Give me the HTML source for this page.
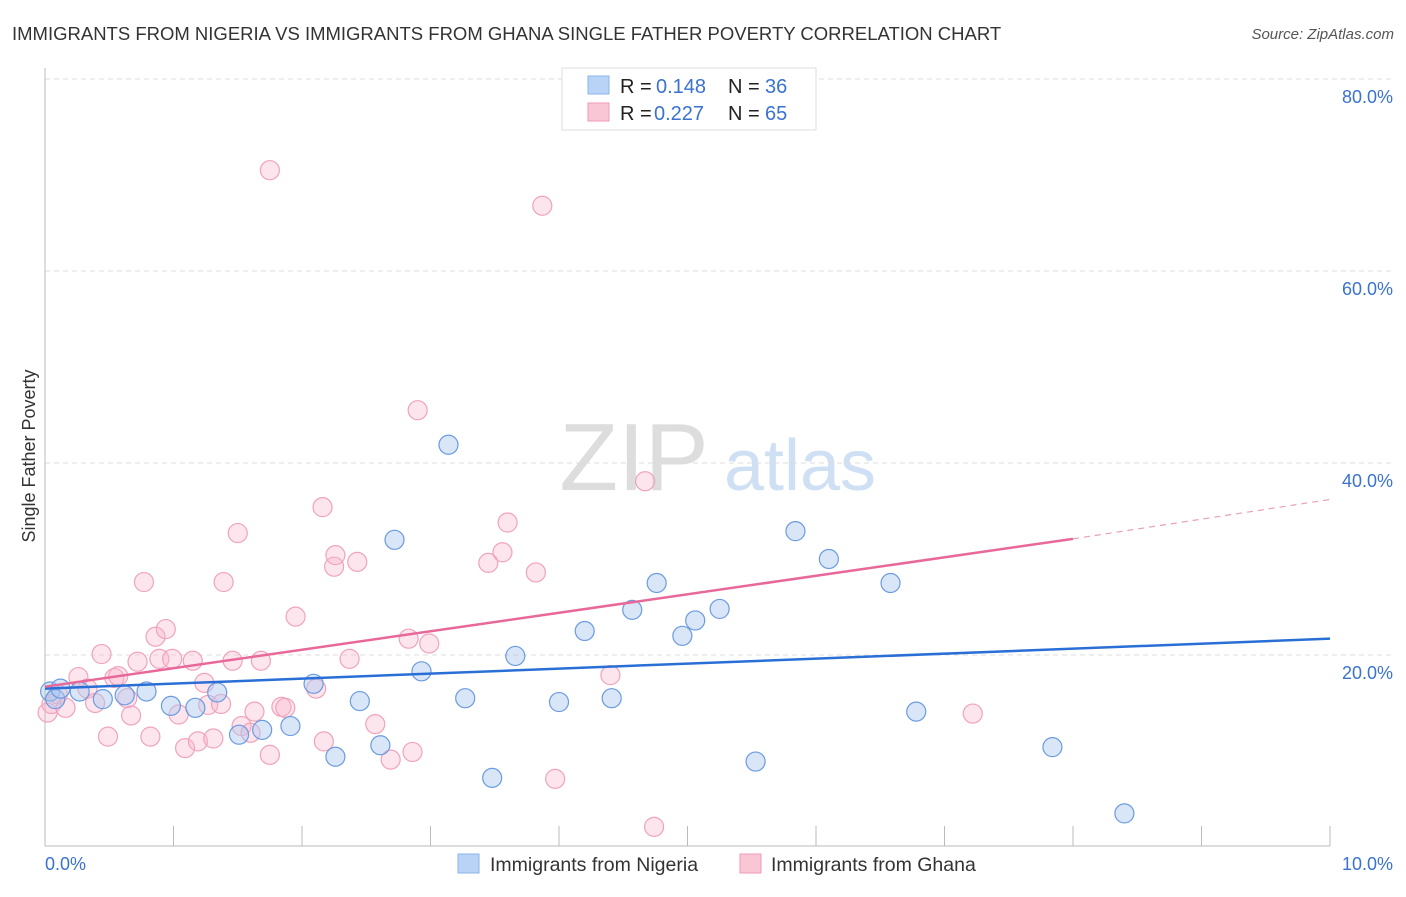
<!DOCTYPE html>
<html><head><meta charset="utf-8"><style>
body{margin:0;background:#fff;font-family:"Liberation Sans",sans-serif;}
svg text{font-family:"Liberation Sans",sans-serif;}
</style></head><body>
<svg width="1406" height="892" xmlns="http://www.w3.org/2000/svg">
<text x="12" y="40" font-size="18.5" fill="#333">IMMIGRANTS FROM NIGERIA VS IMMIGRANTS FROM GHANA SINGLE FATHER POVERTY CORRELATION CHART</text>
<text x="1394" y="39" font-size="15" fill="#555" font-style="italic" text-anchor="end">Source: ZipAtlas.com</text>
<text x="35" y="456" font-size="18" fill="#333" text-anchor="middle" transform="rotate(-90 35 456)">Single Father Poverty</text>
<g><text x="634" y="490" font-size="96" fill="#ddd" font-family="Liberation Serif" text-anchor="middle">ZIP</text><text x="800" y="490" font-size="72" fill="#cfe0f5" text-anchor="middle">atlas</text></g>
<g id="grid"></g><g id="axes"></g><g id="pts"></g><g id="lines"></g>
<g>
<rect x="562" y="68" width="254" height="62" fill="#fff" stroke="#ddd"/>
<rect x="588" y="76" width="21" height="18" fill="#b8d3f5" stroke="#8ab4ea"/>
<rect x="588" y="103" width="21" height="18" fill="#f9c6d6" stroke="#f09ab6"/>
<text x="620" y="93" font-size="20" fill="#222">R =</text>
<text x="656" y="93" font-size="20" fill="#3a72d0">0.148</text>
<text x="728" y="93" font-size="20" fill="#222">N =</text>
<text x="765" y="93" font-size="20" fill="#3a72d0">36</text>
<text x="620" y="120" font-size="20" fill="#222">R =</text>
<text x="654" y="120" font-size="20" fill="#3a72d0">0.227</text>
<text x="728" y="120" font-size="20" fill="#222">N =</text>
<text x="765" y="120" font-size="20" fill="#3a72d0">65</text>
</g>
<g>
<rect x="458" y="854" width="21" height="19" fill="#b8d3f5" stroke="#8ab4ea"/>
<text x="490" y="871" font-size="19.5" fill="#333">Immigrants from Nigeria</text>
<rect x="740" y="854" width="21" height="19" fill="#f9c6d6" stroke="#f09ab6"/>
<text x="771" y="871" font-size="19.5" fill="#333">Immigrants from Ghana</text>
</g>
</svg>
<script>
const yTicks=[20,40,60,80];
const xTickLabels=["0.0%","10.0%"];
const nigeriaX=[0.04,0.08,0.12,0.27,0.45,0.62,0.79,0.98,1.17,1.34,1.51,1.69,1.91,2.09,2.26,2.45,2.61,2.72,2.93,3.14,3.27,3.48,3.66,4.0,4.2,4.41,4.57,4.76,4.96,5.06,5.25,5.53,5.84,6.1,6.58,6.78,7.84,8.4];
const nigeriaY=[16.2,15.4,16.5,16.2,15.4,15.8,16.2,14.7,14.5,16.1,11.7,12.2,12.6,17.0,9.4,15.2,10.6,32.0,18.3,41.9,15.5,7.2,19.9,15.1,22.5,15.5,24.7,27.5,22.0,23.6,24.8,8.9,32.9,30.0,27.5,14.1,10.4,3.5];
const ghanaX=[0.02,0.05,0.1,0.16,0.26,0.33,0.39,0.44,0.49,0.54,0.57,0.64,0.67,0.72,0.77,0.82,0.86,0.89,0.94,0.99,1.04,1.09,1.15,1.19,1.24,1.27,1.31,1.37,1.39,1.46,1.5,1.53,1.6,1.63,1.68,1.75,1.75,1.84,1.87,1.95,2.11,2.16,2.17,2.25,2.26,2.37,2.43,2.57,2.69,2.83,2.86,2.9,2.99,3.45,3.56,3.6,3.82,3.87,3.97,4.4,4.67,4.74,7.22];
const ghanaY=[14.0,14.9,15.9,14.5,17.7,16.5,15.0,20.1,11.5,17.6,17.8,15.5,13.7,19.3,27.6,11.5,21.9,19.6,22.7,19.6,13.8,10.3,19.4,11.0,17.1,14.8,11.3,14.9,27.6,19.4,32.7,12.6,11.9,14.1,19.4,9.6,70.5,14.6,14.5,24.0,16.5,35.4,11.0,29.2,30.4,19.6,29.7,12.8,9.1,21.7,9.9,45.5,21.2,29.6,30.7,33.8,28.6,66.8,7.1,17.9,38.1,2.1,13.9];
const blueTrend=[16.5,21.7];
const pinkTrend=[16.7,32.1,36.2];
const X0=45,X1=1330,Y0=847,PY=9.6;
const sx=v=>X0+(X1-X0)*v/10, sy=v=>Y0-v*PY;
const NS="http://www.w3.org/2000/svg";
function mk(t,a,p){const e=document.createElementNS(NS,t);for(const k in a)e.setAttribute(k,a[k]);document.getElementById(p).appendChild(e);return e;}
yTicks.forEach(v=>{
 const g=mk("line",{x1:X0,x2:1394,y1:sy(v),y2:sy(v),stroke:"#ddd","stroke-dasharray":"5,4"},"grid");
 
 
 const t=mk("text",{x:1393,y:sy(v)+24,"font-size":18,fill:"#3a72d0","text-anchor":"end"},"grid");
 t.textContent=v.toFixed(1)+"%";
 
 
});
const ax=mk("line",{x1:X0,x2:X0,y1:68,y2:846,stroke:"#bbb"},"axes");


const bx=mk("line",{x1:X0,x2:X1,y1:846,y2:846,stroke:"#bbb"},"axes");


for(let i=1;i<=10;i++){const l=mk("line",{x1:sx(i),x2:sx(i),y1:826,y2:846,stroke:"#bbb"},"axes");
 
 }
xTickLabels.forEach((s,i)=>{const t=mk("text",{x:i?1393:45,y:870,"font-size":18,fill:"#3a72d0","text-anchor":i?"end":"start"},"axes");t.textContent=s;
 
 });
ghanaX.forEach((x,i)=>{const c=mk("circle",{cx:sx(x),cy:sy(ghanaY[i]),r:9.5,fill:"rgba(248,180,203,0.35)",stroke:"#f0a3bc","stroke-width":1.2},"pts");
 
 });
nigeriaX.forEach((x,i)=>{const c=mk("circle",{cx:sx(x),cy:sy(nigeriaY[i]),r:9.5,fill:"rgba(170,200,240,0.45)",stroke:"#6b9be0","stroke-width":1.2},"pts");
 
 });
const bl=mk("line",{x1:sx(0),y1:sy(blueTrend[0]),x2:sx(10),y2:sy(blueTrend[1]),stroke:"#2a6fd6","stroke-width":2.5},"lines");


const pl=mk("line",{x1:sx(0),y1:sy(pinkTrend[0]),x2:sx(8),y2:sy(pinkTrend[1]),stroke:"#e8689a","stroke-width":2.5},"lines");


const pd=mk("line",{x1:sx(8),y1:sy(pinkTrend[1]),x2:sx(10),y2:sy(pinkTrend[2]),stroke:"#e8a0b8","stroke-width":1.2,"stroke-dasharray":"6,5"},"lines");


</script>
</body></html>
